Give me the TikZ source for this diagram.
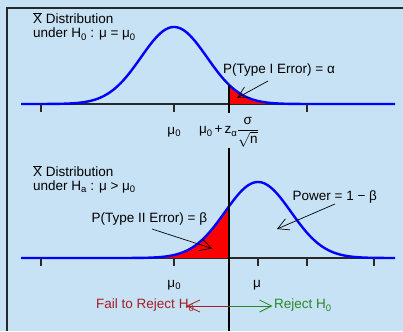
\documentclass[tikz,border=0pt]{standalone}
\usepackage{fontspec}
\setmainfont{Liberation Sans}
\usetikzlibrary{arrows.meta}
\definecolor{bgblue}{RGB}{200,226,245}
\definecolor{failred}{RGB}{165,30,35}
\definecolor{rejgreen}{RGB}{40,135,40}
\definecolor{axisgray}{RGB}{40,40,40}
\newcommand{\lowidx}[1]{\raisebox{-0.35ex}{\fontsize{9.5}{10}\selectfont #1}}
\tikzset{
  lbl/.style={inner sep=0pt, font=\fontsize{13.5}{16}\selectfont},
  axisline/.style={draw=axisgray, line width=1.2pt},
  tickmark/.style={draw=axisgray, line width=1.2pt},
  bluecurve/.style={draw=blue, line width=2.4pt},
  critline/.style={draw=black, line width=1.8pt},
  pointer/.style={draw=black, line width=0.7pt, -{Straight Barb[length=11pt,width=12pt,line width=0.7pt]}},
  frameline/.style={draw=axisgray, line width=2pt},
}
\begin{document}
\begin{tikzpicture}[x=1pt,y=-1pt]
\fill[bgblue] (0,0) rectangle (403,331);
\useasboundingbox (0,0) rectangle (403,331);
% frame
\draw[frameline] (6.5,331) -- (6.5,8) -- (403,8);
% ---------- top panel ----------
\draw[axisline] (21,104) -- (395,104);
\fill[red] (229,104) -- plot[domain=229:395,samples=80] (\x,{104-77*exp(-0.5*((\x-174)/33)*((\x-174)/33))}) -- (395,104) -- cycle;
\draw[bluecurve] plot[domain=21:395,samples=200,smooth] (\x,{104-77*exp(-0.5*((\x-174)/33)*((\x-174)/33))});
\foreach \t in {41,174,307} \draw[tickmark] (\t,104) -- (\t,112.5);
\coordinate (ctop) at (229,85);
\coordinate (cbot) at (229,113);
\draw[critline] (ctop) -- (cbot);
\node[lbl,anchor=base west] (t1) at (33,24) {\(\overline{\mbox{X}}\) Distribution};
\node[lbl,anchor=base west] (t2) at (33,37.7) {under H\lowidx{0} : μ = μ\lowidx{0}};
\node[lbl,anchor=base west] (alpha) at (223,73.3) {P(Type I Error) = α};
\coordinate (alphafrom) at (268,81);
\coordinate (alphato) at (237,98);
\draw[pointer] (alphafrom) -- (alphato);
\node[lbl] (mu0top) at (174,132) {μ\lowidx{0}};
\node[lbl] (crit) at (229,132) {μ\lowidx{0}\,+\,z\lowidx{α}\(\displaystyle\frac{\mbox{σ}}{\sqrt{\mbox{n}}}\)};
% ---------- bottom panel ----------
\draw[axisline] (21,258) -- (395,258);
\fill[red] (21,258) -- plot[domain=21:229,samples=100] (\x,{258-76*exp(-0.5*((\x-258)/33)*((\x-258)/33))}) -- (229,258) -- cycle;
\draw[bluecurve] plot[domain=21:395,samples=200,smooth] (\x,{258-76*exp(-0.5*((\x-258)/33)*((\x-258)/33))});
\foreach \t in {41,174,258,307,374} \draw[tickmark] (\t,258) -- (\t,266);
\coordinate (vtop) at (229,148);
\coordinate (vbot) at (229,331);
\draw[critline] (vtop) -- (vbot);
\node[lbl,anchor=base west] (b1) at (33,176.7) {\(\overline{\mbox{X}}\) Distribution};
\node[lbl,anchor=base west] (b2) at (33,190) {under H\lowidx{a} : μ > μ\lowidx{0}};
\node[lbl,anchor=base west] (beta) at (91.5,222.3) {P(Type II Error) = β};
\coordinate (betafrom) at (152,229);
\coordinate (betato) at (212,248.5);
\draw[pointer] (betafrom) -- (betato);
\node[lbl,anchor=base west] (power) at (292.5,200.7) {Power = 1 − β};
\coordinate (powfrom) at (335,204);
\coordinate (powto) at (277,229);
\draw[pointer] (powfrom) -- (powto);
\node[lbl] (mu0bot) at (174,285) {μ\lowidx{0}};
\node[lbl] (mubot) at (257,285) {μ};
% decision arrows
\coordinate (split) at (229,306);
\coordinate (failtip) at (186,306);
\coordinate (rejtip) at (272.5,306);
\draw[failred, line width=0.8pt, -{Straight Barb[length=13pt,width=12pt,line width=0.8pt]}] (split) -- (failtip);
\draw[rejgreen, line width=0.8pt, -{Straight Barb[length=12pt,width=12pt,line width=0.8pt]}] (split) -- (rejtip);
\node[lbl,anchor=base east,text=failred] (fail) at (194,308.5) {Fail to Reject H\lowidx{0}};
\node[lbl,anchor=base west,text=rejgreen] (rej) at (274,308.8) {Reject H\lowidx{0}};
\end{tikzpicture}
\end{document}
